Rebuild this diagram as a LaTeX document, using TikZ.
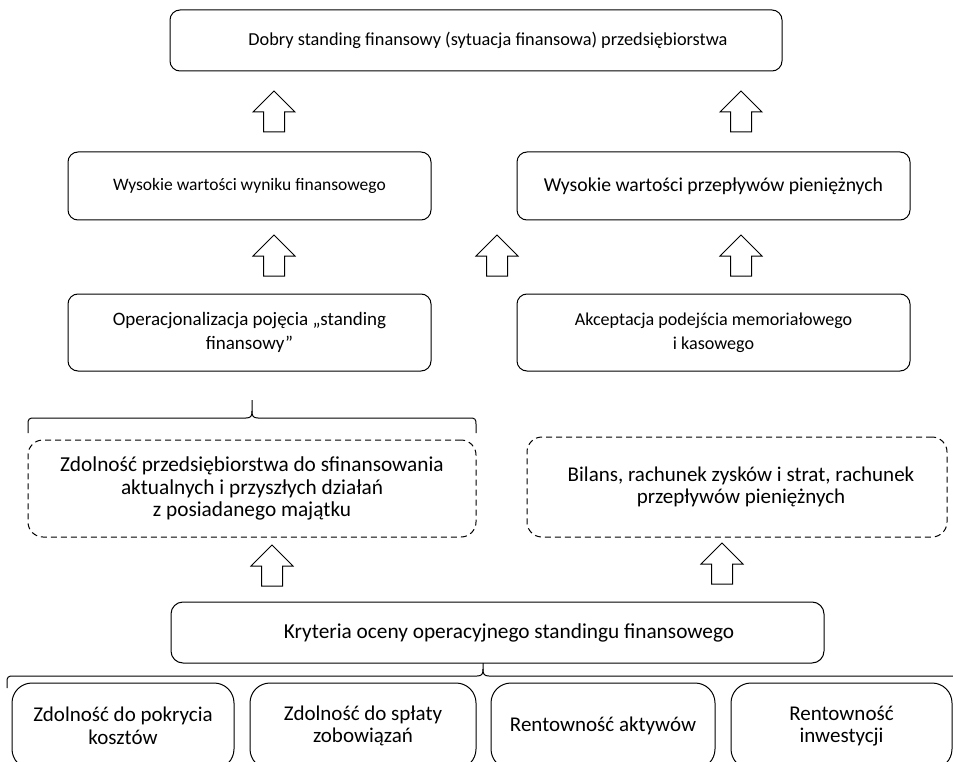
\documentclass[tikz,border=0pt]{standalone}
\usepackage{fontspec}
\setmainfont{Carlito}
\newcommand{\fsz}[1]{\fontsize{#1}{22.5}\selectfont}
\begin{document}
\begin{tikzpicture}[x=1pt,y=-1pt,
  every node/.style={inner sep=0pt,outer sep=0pt,align=center,font=\fsz{21}},
  box/.style={draw,line width=1pt,rounded corners=10pt},
  dbox/.style={draw,line width=1pt,dash pattern=on 6pt off 4pt,rounded corners=15pt},
  lowbox/.style={draw,line width=1pt,rounded corners=20pt},
  hollowup/.pic={\draw[line width=1pt,line join=miter]
    (0,0) -- (-21,21) -- (-10.5,21) -- (-10.5,41) -- (10.5,41)
    -- (10.5,21) -- (21,21) -- cycle;},
  bracepath/.style={line width=1pt}]
\useasboundingbox (0,0) rectangle (953,762);
\clip (0,0) rectangle (953,762);

% top level
\node[box,font=\fsz{18.3},minimum width=612pt,minimum height=61pt] (top) at (476,40.5)
  {\hspace*{24pt}Dobry standing finansowy (sytuacja finansowa) przedsiębiorstwa};

% second level
\node[box,font=\fsz{17.5},minimum width=363pt,minimum height=68pt] (wynik) at (249.5,186)
  {Wysokie wartości wyniku finansowego};
\node[box,font=\fsz{19.7},minimum width=393pt,minimum height=68pt] (przeplywy) at (713.5,186)
  {Wysokie wartości przepływów pieniężnych};

% third level
\node[box,font=\fontsize{19}{24}\selectfont,minimum width=363pt,minimum height=77pt] (oper) at (249.5,332.5)
  {Operacjonalizacja pojęcia „standing\\finansowy”};
\node[box,font=\fontsize{18.1}{24}\selectfont,minimum width=393pt,minimum height=77pt] (akcept) at (713.5,332.5)
  {Akceptacja podejścia memoriałowego\\i kasowego};

% dashed boxes
\node[dbox,font=\fsz{21.3},minimum width=448pt,minimum height=97pt] (zdolnosc) at (252,488.5)
  {Zdolność przedsiębiorstwa do sfinansowania\\aktualnych i przyszłych działań\\z posiadanego majątku};
\node[dbox,minimum width=420pt,minimum height=100pt] (bilans) at (737,487)
  {\hspace*{8pt}Bilans, rachunek zysków i strat, rachunek\\\hspace*{8pt}przepływów pieniężnych};

% criteria
\node[box,font=\fsz{21.3},rounded corners=12pt,minimum width=653pt,minimum height=61pt] (kryt) at (497.5,632.5)
  {\hspace*{23pt}Kryteria oceny operacyjnego standingu finansowego};

% bottom row
\node[lowbox,minimum width=222pt,minimum height=86pt] (k1) at (123,726)
  {Zdolność do pokrycia\\kosztów};
\node[lowbox,minimum width=226pt,minimum height=86pt] (k2) at (363,726)
  {Zdolność do spłaty\\zobowiązań};
\node[lowbox,minimum width=224pt,minimum height=86pt] (k3) at (603,726)
  {Rentowność aktywów};
\node[lowbox,minimum width=221pt,minimum height=86pt] (k4) at (841.5,726)
  {Rentowność\\inwestycji};

% hollow arrows
\pic at (274,91) {hollowup};
\pic at (741,91) {hollowup};
\pic at (274,235) {hollowup};
\pic at (497,235) {hollowup};
\pic at (741,235) {hollowup};
\pic at (272,545) {hollowup};
\pic at (722,543) {hollowup};

% brace over the dashed box
\draw[bracepath] (28,433) -- (28,424) .. controls (28,419) and (29,418) .. (34,418)
  -- (246,418) .. controls (251,418) and (252,416) .. (252,411) -- (252,400);
\draw[bracepath] (476,433) -- (476,424) .. controls (476,419) and (475,418) .. (470,418)
  -- (258,418) .. controls (253,418) and (252,416) .. (252,411);

% brace over the bottom row
\draw[bracepath] (7,688) -- (7,682) .. controls (7,677) and (8,676) .. (13,676)
  -- (477,676) .. controls (482,676) and (483,674) .. (483,669) -- (483,663);
\draw[bracepath] (960,688) -- (960,682) .. controls (960,677) and (959,676) .. (954,676)
  -- (489,676) .. controls (484,676) and (483,674) .. (483,669);
\end{tikzpicture}
\end{document}
